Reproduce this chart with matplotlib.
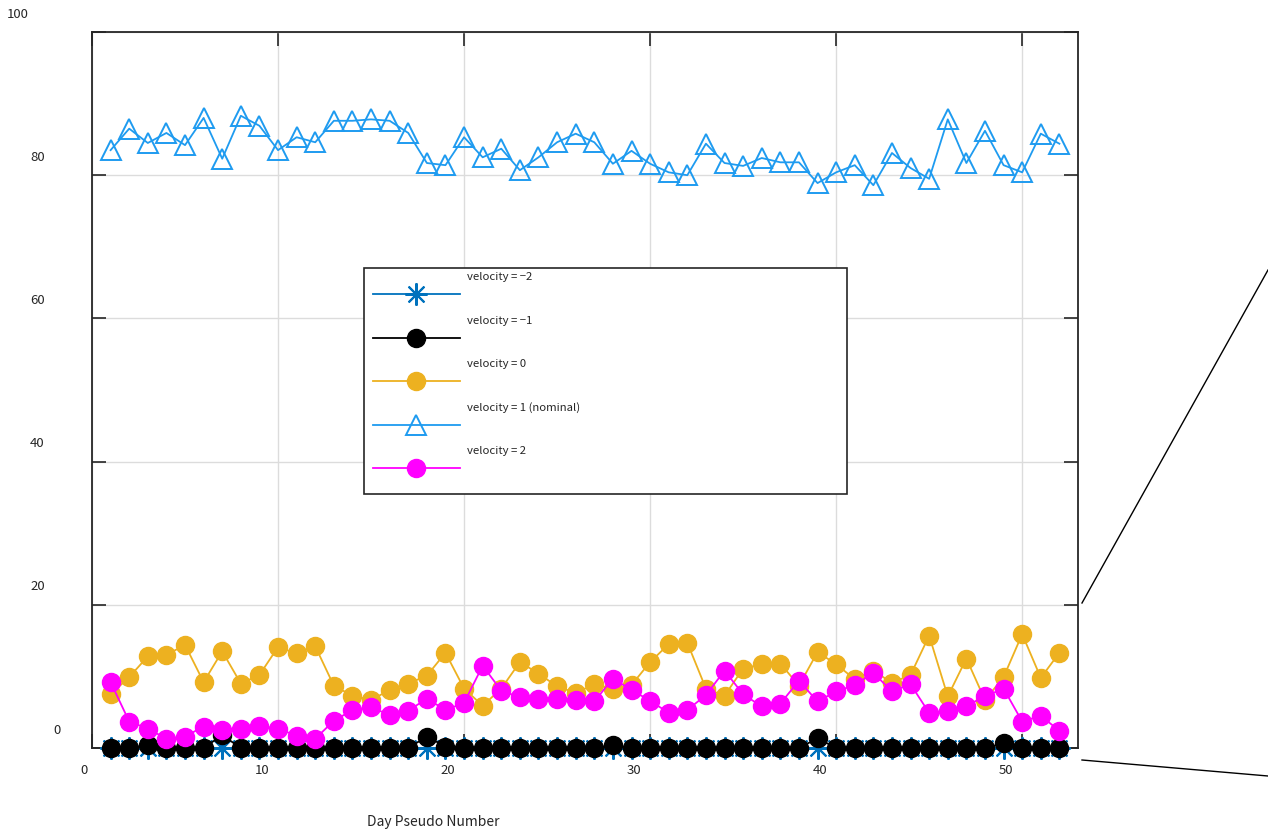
import matplotlib
matplotlib.use('Agg')
import matplotlib.pyplot as plt
from matplotlib.lines import Line2D
from matplotlib.patches import Rectangle
import matplotlib.transforms as mtransforms

plt.rcParams['font.family'] = ['Noto Sans CJK JP', 'DejaVu Sans']

# percentage of days per velocity class, day 1..52
days = list(range(1, 53))
vel_m2 = [0.0] * 52
vel_m1 = [0.0, 0.0, 0.4, 0.0, 0.0, 0.0, 1.8, 0.0, 0.0, 0.0,
          0.0, 0.0, 0.0, 0.0, 0.0, 0.0, 0.0, 1.6, 0.2, 0.0,
          0.0, 0.0, 0.0, 0.0, 0.0, 0.0, 0.0, 0.4, 0.0, 0.0,
          0.0, 0.0, 0.0, 0.0, 0.0, 0.0, 0.0, 0.0, 1.35, 0.0,
          0.0, 0.0, 0.0, 0.0, 0.0, 0.0, 0.0, 0.0, 0.65, 0.0,
          0.0, 0.0]
vel_0 = [7.5, 9.9, 12.8, 13.0, 14.4, 9.2, 13.5, 9.0, 10.2, 14.1,
         13.2, 14.2, 8.7, 7.3, 6.7, 8.1, 9.0, 10.1, 13.3, 8.3,
         5.9, 8.3, 12.0, 10.4, 8.6, 7.7, 8.9, 8.2, 8.8, 12.0,
         14.5, 14.7, 8.3, 7.3, 11.1, 11.7, 11.8, 8.7, 13.4, 11.7,
         9.6, 10.8, 9.1, 10.2, 15.7, 7.2, 12.5, 6.7, 9.9, 15.9,
         9.8, 13.3]
vel_1 = [83.5, 86.5, 84.5, 85.9, 84.2, 88.0, 82.3, 88.3, 86.9, 83.5,
         85.3, 84.6, 87.6, 87.6, 87.8, 87.6, 85.9, 81.7, 81.4, 85.3,
         82.5, 83.7, 80.7, 82.5, 84.6, 85.8, 84.6, 81.6, 83.4, 81.6,
         80.4, 80.0, 84.4, 81.7, 81.3, 82.4, 81.8, 81.8, 78.9, 80.4,
         81.4, 78.6, 83.1, 81.0, 79.5, 87.8, 81.7, 86.2, 81.4, 80.4,
         85.8, 84.4]
vel_2 = [9.2, 3.7, 2.7, 1.3, 1.6, 3.0, 2.5, 2.7, 3.1, 2.7,
         1.7, 1.3, 3.8, 5.3, 5.7, 4.6, 5.2, 6.9, 5.3, 6.3,
         11.5, 8.0, 7.1, 6.9, 6.9, 6.7, 6.5, 9.7, 8.1, 6.6,
         4.9, 5.3, 7.4, 10.8, 7.5, 5.8, 6.2, 9.4, 6.5, 7.9,
         8.8, 10.5, 7.9, 8.9, 4.9, 5.2, 5.9, 7.2, 8.3, 3.7,
         4.5, 2.4]

labels = ['velocity = \u22122', 'velocity = \u22121', 'velocity = 0',
          'velocity = 1 (nominal)', 'velocity = 2']
xticks = [0, 10, 20, 30, 40, 50]
yticks = [0, 20, 40, 60, 80, 100]

W, H = 1268, 832
fig = plt.figure(figsize=(W / 100, H / 100), dpi=100)
ax = fig.add_axes([92 / W, 1 - 748 / H, (1078 - 92) / W, (748 - 32) / H])

styles = [
    dict(color='#0072BD', marker=(8, 2, 0), ms=16, mew=1.5, mfc='#0072BD'),
    dict(color='black', marker='o', ms=13, mfc='black', mec='black'),
    dict(color='#EDB120', marker='o', ms=13, mfc='#EDB120', mec='#EDB120'),
    dict(color='#1E9BF0', marker='^', ms=15, mfc='none', mec='#1E9BF0', mew=1.4),
    dict(color='#FF00FF', marker='o', ms=13, mfc='#FF00FF', mec='#FF00FF'),
]
series = [vel_m2, vel_m1, vel_0, vel_1, vel_2]
for vals, st in zip(series, styles):
    ax.plot(days, vals, lw=1.3, clip_on=False, zorder=3, **st)

ax.set_xlim(0, 53)
ax.set_ylim(0, 100)
ax.set_xticks(xticks)
ax.set_yticks(yticks)
ax.set_xticklabels([])
ax.set_yticklabels([])
ax.grid(True, color='#dcdcdc', lw=1.0)
ax.set_axisbelow(True)
ax.tick_params(direction='in', length=10, width=1.2, top=True, right=True,
               color='#262626')
for sp in ax.spines.values():
    sp.set_color('#262626')
    sp.set_linewidth(1.3)

# tick labels sit a little off their ticks
for v in yticks:
    s = str(v)
    dx = (57 - 19.5 * (len(s) - 1) - 92) / 100
    tr = mtransforms.blended_transform_factory(ax.transAxes, ax.transData) + \
        mtransforms.ScaledTranslation(dx, 18 / 100, fig.dpi_scale_trans)
    ax.text(0, v, s, transform=tr, ha='center', va='center', fontsize=9.5,
            color='#262626')
for v in xticks:
    s = str(v)
    dx = -8 * len(s) / 100
    tr = mtransforms.blended_transform_factory(ax.transData, ax.transAxes) + \
        mtransforms.ScaledTranslation(dx, -23 / 100, fig.dpi_scale_trans)
    ax.text(v, 0, s, transform=tr, ha='center', va='center', fontsize=9.5,
            color='#262626')

fig.text(433 / W, 1 - 822 / H, 'Day Pseudo Number', ha='center', va='center',
         fontsize=10, color='#262626')


# legend drawn by hand in pixel space
def fx(p):
    return p / W


def fy(p):
    return 1 - p / H


fig.patches.append(Rectangle((fx(364), fy(494)), fx(847) - fx(364), fy(268) - fy(494),
                             transform=fig.transFigure, fc='white', ec='#262626',
                             lw=1.2, zorder=5))
for i, (lab, st) in enumerate(zip(labels, styles)):
    ly = 294 + i * 43.5
    fig.add_artist(Line2D([fx(373), fx(460)], [fy(ly), fy(ly)], color=st['color'],
                          lw=1.3, transform=fig.transFigure, zorder=6))
    mst = {k: v for k, v in st.items() if k != 'color'}
    fig.add_artist(Line2D([fx(416)], [fy(ly)], ls='none', color=st['color'],
                          transform=fig.transFigure, zorder=7, **mst))
    fig.text(fx(467), fy(ly - 17), lab, ha='left', va='center', fontsize=8.2,
             color='#262626', zorder=7)

# connector lines to the right of the axes
fig.add_artist(Line2D([fx(1082), fx(1268)], [fy(603), fy(270)], color='black',
                      lw=1.0, transform=fig.transFigure))
fig.add_artist(Line2D([fx(1082), fx(1268)], [fy(760), fy(776)], color='black',
                      lw=1.0, transform=fig.transFigure))

fig.savefig('out.png', dpi=100)
